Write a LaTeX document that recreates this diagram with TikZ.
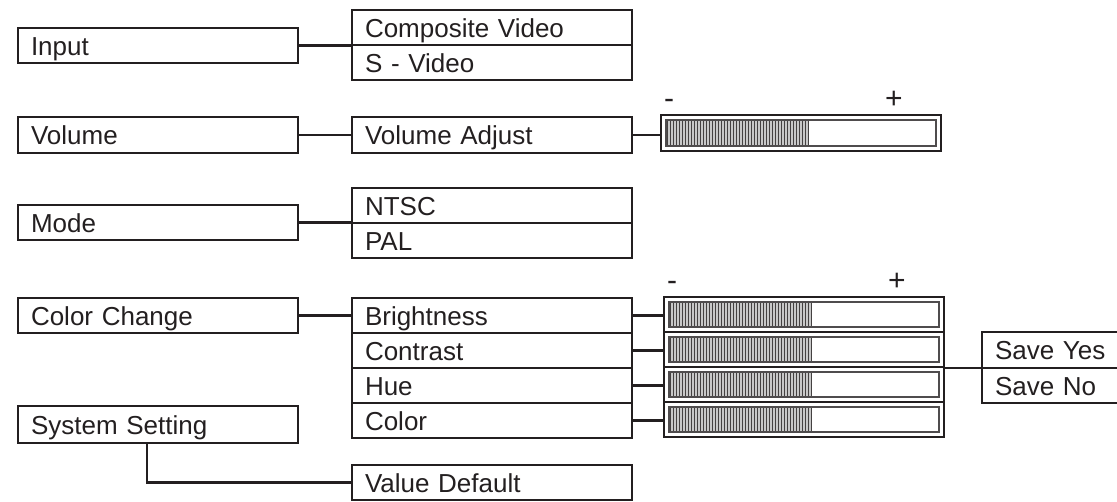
\documentclass[tikz,border=0pt]{standalone}
\usepackage{fontspec}
\setmainfont{Liberation Sans}
\usetikzlibrary{calc}
\definecolor{ink}{HTML}{231F20}
\definecolor{hatchgray}{HTML}{C8C8C8}
\tikzset{
  box/.style={draw=ink, line width=2.4pt, minimum width=280pt, minimum height=35pt,
    text width=254pt, inner xsep=13pt, inner ysep=0pt, align=left,
    text height=19pt, text depth=0pt, anchor=north west,
    font=\fontsize{26}{30}\selectfont, text=ink, outer sep=0pt},
  openbox/.style={box, draw=none},
  conn/.style={draw=ink, line width=2.2pt},
  barbox/.style={draw=ink, line width=2.6pt, minimum width=280pt, inner sep=0pt, outer sep=0pt, anchor=north west},
  innerbox/.style={draw=ink!80, line width=1.4pt},
  hatchline/.style={draw=ink!85, line width=0.9pt},
  sign/.style={font=\fontsize{30}{34}\selectfont, text=ink, inner sep=0pt, anchor=base},
}
\newcommand\mybar[4]{% name, x, y, height
  \node[barbox, minimum height=#4pt] (#1) at (#2,#3) {};
  \fill[hatchgray] ({#2+5},{#3+5}) rectangle ({#2+147},{#3+#4-5});
  \foreach \k in {0,...,47} \draw[hatchline] ({#2+6+3*\k},{#3+5}) -- ({#2+6+3*\k},{#3+#4-5});
  \draw[innerbox] ({#2+5},{#3+5}) rectangle ({#2+275},{#3+#4-5});
}
\begin{document}
\begin{tikzpicture}[x=1pt,y=-1pt]
\useasboundingbox (0,0) rectangle (1117,501);
% left column
\node[box] (input) at (18,28) {Input};
\node[box, minimum height=36pt] (vol) at (18,117) {Volume};
\node[box] (mode) at (18,205) {Mode};
\node[box] (cc) at (18,298) {Color Change};
\node[box, minimum height=37pt] (sys) at (18,406) {System Setting};
% middle column
\node[box] (comp) at (352,10) {Composite Video};
\node[box] (svid) at (352,45) {S - Video};
\node[box, minimum height=36pt] (voladj) at (352,117) {Volume Adjust};
\node[box] (ntsc) at (352,188) {NTSC};
\node[box] (pal) at (352,223) {PAL};
\node[box] (bri) at (352,298) {Brightness};
\node[box] (con) at (352,333) {Contrast};
\node[box] (hue) at (352,368) {Hue};
\node[box] (col) at (352,403) {Color};
\node[box] (vd) at (352,465) {Value Default};
% bars
\mybar{vb}{661}{115}{36}
\mybar{cb1}{664}{297}{35}
\mybar{cb2}{664}{332}{35}
\mybar{cb3}{664}{367}{35}
\mybar{cb4}{664}{402}{35}
% signs
\node[sign] (vminus) at (669,108) {-};
\node[sign] (vplus) at (894,108) {+};
\node[sign] (cminus) at (672,290) {-};
\node[sign] (cplus) at (897,290) {+};
% save boxes
\node[openbox, minimum width=150pt, text width=124pt, minimum height=36pt] (sy) at (982,332) {Save Yes};
\node[openbox, minimum width=150pt, text width=124pt, minimum height=35pt] (sn) at (982,368) {Save No};
\draw[ink, line width=2.4pt] (sy.north east) -- (sy.north west) -- (sn.south west) -- (sn.south east);
\draw[ink, line width=2.4pt] (sy.south west) -- (sy.south east);
% connectors
\draw[conn] (input.east) -- (input.east -| comp.west);
\draw[conn] (vol.east) -- (voladj.west);
\draw[conn] (voladj.east) -- (voladj.east -| vb.west);
\draw[conn] (mode.east) -- (mode.east -| ntsc.west);
\draw[conn] (cc.east) -- (cc.east -| bri.west);
\draw[conn] (bri.east) -- (bri.east -| cb1.west);
\draw[conn] (con.east) -- (con.east -| cb2.west);
\draw[conn] (hue.east) -- (hue.east -| cb3.west);
\draw[conn] (col.east) -- (col.east -| cb4.west);
\draw[conn] ($(sys.south west)!0.46!(sys.south east)$) |- (vd.west);
\draw[conn] (sy.south west -| cb2.east) -- (sy.south west);
\end{tikzpicture}
\end{document}
